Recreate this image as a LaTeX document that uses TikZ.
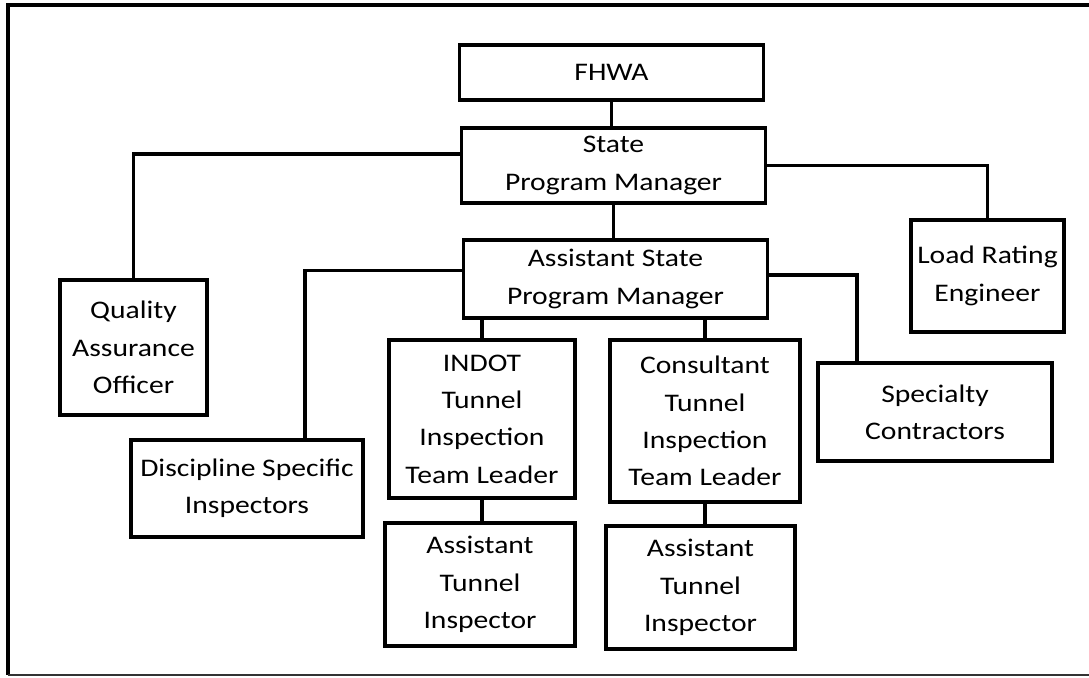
\documentclass[tikz,border=0pt]{standalone}
\usepackage{fontspec}
\setmainfont[FakeStretch=1.17]{Carlito}
\usetikzlibrary{positioning}
\tikzset{
  every picture/.style={line width=2.4pt},
  unit/.style={draw=black, fill=white, align=center, inner sep=2pt, font=\fontsize{18}{26.5}\selectfont},
  link/.style={draw=black, line width=2.3pt},
  frame/.style={draw=black, line width=2.4pt},
}

\begin{document}
\begin{tikzpicture}[x=0.025cm, y=-0.025cm,
                    wide/.style={unit, minimum width=7.6cm}]
  \useasboundingbox (0,0) rectangle (1089,677);
  \draw[frame] (1089,5) -- (8,5) -- (8,675);
  \draw[frame, line width=1.2pt, draw=black!80] (8,675) -- (1089,675);

  \node[wide, minimum height=1.375cm] (fhwa) at (611.5,72.5) {FHWA};
  \node[wide, minimum height=1.875cm] (spm) at (613.5,165.5) {State\\Program Manager};
  \node[wide, minimum height=1.95cm] (aspm) at (615.5,279) {Assistant State\\Program Manager};
  \node[unit, minimum width=3.675cm, minimum height=3.375cm] (qao) at (133.5,347.5) {Quality\\Assurance\\Officer};
  \node[unit, minimum width=3.825cm, minimum height=2.8cm] (lre) at (987.5,276) {Load Rating\\Engineer};
  \node[unit, minimum width=5.8cm, minimum height=2.425cm] (dsi) at (247,488.5) {Discipline Specific\\Inspectors};
  \node[unit, minimum width=5.85cm, minimum height=2.45cm] (sc) at (935,412) {Specialty\\Contractors};
  \node[unit, minimum width=4.65cm, minimum height=3.95cm] (indot) at (482,419) {INDOT\\Tunnel\\Inspection\\Team Leader};
  \node[unit, minimum width=4.75cm, minimum height=4.05cm] (cons) at (705,421) {Consultant\\Tunnel\\Inspection\\Team Leader};
  \node[unit, minimum width=4.75cm, minimum height=3.075cm] (ati1) at (480,584.5) {Assistant\\Tunnel\\Inspector};
  \node[unit, minimum width=4.725cm, minimum height=3.075cm] (ati2) at (700.5,587.5) {Assistant\\Tunnel\\Inspector};

  \draw[link] (fhwa.south) -- (fhwa.south |- spm.north);
  \draw[link] ([yshift=0.29cm]spm.west) -| (qao.north);
  \draw[link] (spm.east) -| (lre.north);
  \draw[link] (spm.south) -- (spm.south |- aspm.north);
  \draw[link] ([yshift=0.22cm]aspm.west) -| ([xshift=1.45cm]dsi.north);
  \draw[link] ([yshift=0.1cm]aspm.east) -| ([xshift=-1.95cm]sc.north);
  \draw[link] (indot.north |- aspm.south) -- (indot.north);
  \draw[link] (cons.north |- aspm.south) -- (cons.north);
  \draw[link] (indot.south) -- (indot.south |- ati1.north);
  \draw[link] (cons.south) -- (cons.south |- ati2.north);
\end{tikzpicture}
\end{document}
